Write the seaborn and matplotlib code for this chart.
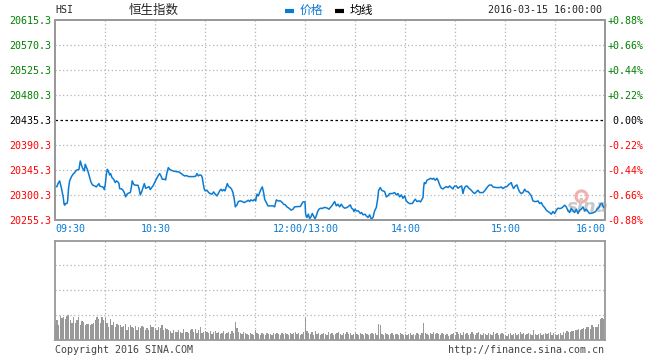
import numpy as np
import pandas as pd
import seaborn as sns
import matplotlib
matplotlib.use("Agg")
import matplotlib.pyplot as plt
from matplotlib.lines import Line2D
from matplotlib.transforms import ScaledTranslation

# ------------ data -------------------------------------
prev_close = 20435.3
levels = [20255.3, 20300.3, 20345.3, 20390.3, 20435.3, 20480.3, 20525.3, 20570.3, 20615.3]

# trading minutes since 09:30 (12:00 and 13:00 share minute 150)
minutes = [
    0, 1.0, 1.6, 2.6, 3.0, 3.6, 4.2, 4.8, 5.2, 5.6, 6.0, 7.0, 7.4, 8.0, 8.6, 9.6, 10.6, 11.6, 12.6, 13.6,
    14.2, 15.0, 15.6, 16.2, 16.8, 17.4, 18.0, 18.6, 19.2, 19.8, 20.6, 21.2, 21.8, 22.6, 23.6, 24.6, 25.6,
    26.2, 26.8, 27.8, 28.6, 29.4, 30.0, 30.6, 31.2, 31.8, 32.6, 33.2, 34.0, 35.0, 36.0, 36.6, 37.4, 38.2,
    38.6, 39.8, 40.6, 41.4, 42.2, 43.0, 43.8, 45.0, 45.6, 46.2, 46.8, 47.4, 48.6, 49.6, 50.2, 51.0, 51.8,
    52.6, 53.4, 54.2, 55.2, 56.2, 57.0, 57.8, 58.6, 59.6, 60.6, 61.6, 62.6, 63.4, 64.2, 65.6,
    66.2, 67.0, 67.8, 68.6, 69.6, 70.6, 72.6, 74.2, 75.6, 76.6, 77.6, 78.6, 80.2, 82.6, 84.2, 85.0, 85.8,
    86.6, 87.6, 88.2, 88.8, 89.4, 90.0, 91.0, 92.0, 93.0, 94.0, 95.0, 96.0, 97.0, 97.8, 98.6, 99.4, 100.2,
    101.0, 101.8, 102.6, 103.2, 104.0, 105.0, 105.8, 106.6, 107.4, 108.0, 109.0, 109.8, 111.0, 112.2,
    113.4, 114.6, 115.8, 116.6, 117.4, 118.6, 119.6, 120.2, 121.0, 121.8, 122.6, 123.4, 124.2, 125.0,
    125.6, 126.6, 127.6, 128.6, 130.6, 131.6,
    132.6, 133.6, 135.0, 136.2, 137.0, 138.0, 139.0, 140.2, 141.6, 142.6, 143.6, 145.6, 147.0, 147.8,
    148.6, 149.8, 150.2, 151.0, 151.8, 152.6, 153.4, 154.2, 155.0, 155.8, 156.6, 157.4, 158.2, 159.2,
    160.2, 161.2, 162.2, 163.2, 164.2, 165.0, 165.8, 166.6, 167.6, 168.6, 169.6, 170.6, 171.6, 172.6,
    173.6, 175.0, 176.2, 177.0, 177.8, 178.6, 179.2, 179.8, 180.6, 181.8, 183.0, 183.8, 184.6, 185.8,
    186.6, 187.6, 188.6, 189.6, 190.6, 191.6, 192.6, 193.4, 194.0, 195.0, 195.8, 196.6, 197.6,
    198.6, 199.6, 200.6, 202.2, 203.6, 204.6, 205.6, 206.6, 207.6, 208.6, 209.6, 210.6, 211.6, 212.6,
    214.2, 215.2, 216.0, 217.0, 218.2, 219.2, 220.0, 220.6, 221.0, 221.4, 222.2, 223.0, 224.2, 225.2,
    226.2, 227.0, 228.0, 229.0, 229.8, 230.6, 231.6, 232.6, 233.6, 234.6, 235.6, 236.6, 237.6, 238.6,
    239.4, 240.6, 241.6, 242.6, 243.8, 244.6, 245.2, 246.0, 247.0, 248.2, 249.6, 250.6, 251.6, 252.6,
    253.6, 254.6, 256.6, 257.6, 259.0, 260.2, 261.6, 262.6,
    264.6, 266.6, 267.6, 268.6, 270.0, 271.0, 272.2, 273.0, 273.6, 274.2, 275.0, 276.0, 277.0, 277.6,
    278.6, 279.6, 280.6, 281.6, 282.6, 283.6, 284.6, 285.6, 286.6, 287.6, 288.6, 289.6, 290.6, 291.6,
    292.6, 293.6, 294.6, 295.6, 296.6, 297.6, 298.6, 299.6, 300.6, 301.6, 302.6, 303.6, 304.6, 305.6,
    306.6, 307.6, 308.6, 309.6, 310.6, 311.6, 312.6, 313.6, 314.6, 315.6, 316.6, 317.6, 318.6, 319.6,
    320.6, 322.6, 324.2, 325.0, 326.2, 327.0, 328.0, 329.0, 330.0,
]
prices = [
    20314.7, 20314.7, 20320.1, 20324.9, 20320.1, 20312.9, 20303.9, 20294.9, 20284.1, 20281.1, 20284.1,
    20284.1, 20288.9, 20312.9, 20324.9, 20332.1, 20336.9, 20339.9, 20344.1, 20345.3, 20345.9, 20360.9,
    20354.9, 20348.9, 20345.9, 20342.9, 20354.9, 20350.1, 20345.9, 20339.9, 20330.9, 20324.9, 20320.1,
    20317.1, 20315.9, 20314.1, 20317.7, 20320.1, 20315.3, 20314.7, 20314.1, 20309.3, 20318.9, 20336.9,
    20345.9, 20342.9, 20335.7, 20338.1, 20330.9, 20327.9, 20321.9, 20324.9, 20323.7, 20320.1, 20311.1,
    20310.5, 20308.1, 20303.9, 20296.1, 20300.9, 20302.7, 20303.9, 20312.9, 20324.9, 20320.1, 20317.7,
    20317.1, 20317.1, 20311.7, 20299.7, 20305.1, 20312.9, 20320.1, 20311.7, 20312.9, 20314.7, 20309.3,
    20312.9, 20315.9, 20321.9, 20327.9, 20333.9, 20338.1, 20333.9, 20327.9, 20327.9,
    20326.7, 20339.9, 20348.9, 20345.9, 20344.1, 20342.9, 20341.7, 20341.1, 20338.1, 20335.7, 20333.9,
    20334.5, 20332.7, 20332.7, 20333.3, 20338.1, 20333.9, 20335.7, 20335.1, 20330.9, 20318.9, 20309.9,
    20306.9, 20308.1, 20303.9, 20302.1, 20300.9, 20305.1, 20300.9, 20297.9, 20302.1, 20306.9, 20309.9,
    20306.9, 20309.3, 20306.9, 20314.1, 20320.1, 20314.7, 20312.9, 20309.9, 20303.9, 20291.9, 20278.1,
    20281.7, 20287.7, 20288.9, 20287.7, 20285.9, 20287.7, 20290.1, 20287.7, 20290.7, 20288.9, 20291.9,
    20288.9, 20300.9, 20297.9, 20303.9, 20309.9, 20314.1, 20303.9, 20291.9, 20285.9, 20279.9, 20279.9,
    20279.9, 20278.1,
    20290.7, 20288.9, 20288.9, 20285.9, 20282.9, 20281.7, 20278.1, 20275.7, 20272.1, 20273.9, 20278.1,
    20278.7, 20278.7, 20282.9, 20287.1, 20287.1, 20264.9, 20258.9, 20264.9, 20257.1, 20260.1, 20266.1,
    20261.3, 20256.5, 20261.9, 20269.7, 20273.9, 20275.7, 20275.1, 20276.9, 20276.9, 20275.7, 20273.9,
    20276.9, 20279.3, 20282.9, 20287.7, 20279.9, 20282.9, 20278.1, 20282.9, 20278.1, 20275.7, 20276.9,
    20279.9, 20281.7, 20275.7, 20273.9, 20269.7, 20273.9, 20270.9, 20270.9, 20266.1, 20267.9, 20263.7,
    20264.9, 20261.9, 20258.9, 20263.7, 20255.9, 20258.9, 20270.9, 20276.9, 20291.9, 20308.1, 20312.9,
    20308.1, 20306.9, 20305.7,
    20296.1, 20297.9, 20302.1, 20302.1, 20303.9, 20299.7, 20302.1, 20296.1, 20299.7, 20293.7, 20297.9,
    20288.9, 20285.9, 20284.1, 20284.1, 20288.9, 20291.9, 20287.7, 20288.9, 20287.1, 20291.9, 20294.9,
    20312.9, 20321.9, 20320.1, 20326.1, 20327.9, 20329.7, 20327.9, 20329.7, 20326.1, 20329.7, 20324.9,
    20317.7, 20311.7, 20310.5, 20312.9, 20314.7, 20312.9, 20315.9, 20312.9, 20310.5, 20315.3, 20315.9,
    20311.7, 20314.1, 20315.9, 20302.1, 20309.9, 20314.7, 20315.9, 20311.7, 20308.1, 20304.5, 20302.1,
    20305.1, 20308.1, 20303.9, 20303.9, 20306.9, 20312.9, 20317.1, 20317.7, 20314.1,
    20312.9, 20312.9, 20314.1, 20311.1, 20314.1, 20314.7, 20318.9, 20320.1, 20321.9, 20315.9, 20311.1,
    20315.9, 20317.7, 20311.7, 20305.1, 20302.1, 20303.9, 20309.9, 20305.7, 20305.7, 20302.1, 20297.9,
    20288.9, 20287.7, 20287.7, 20288.9, 20284.1, 20285.9, 20279.9, 20276.9, 20272.1, 20269.7, 20267.9,
    20264.9, 20269.7, 20266.1, 20272.1, 20275.7, 20275.1, 20275.7, 20278.1, 20281.1, 20278.1, 20270.9,
    20267.9, 20275.7, 20270.9, 20267.9, 20273.9, 20266.1, 20272.1, 20273.9, 20278.1, 20270.9, 20273.9,
    20269.7, 20266.1, 20267.3, 20269.7, 20273.9, 20276.9, 20282.9, 20284.1, 20276.9, 20276.9,
]

# per-minute volume, arbitrary units (first grid line = 25)
volume = [
    16, 20, 15, 24, 22, 23, 21, 24, 25, 20, 17, 23, 17, 20, 23, 15, 19, 18, 15, 16,
    16, 15, 16, 17, 20, 23, 21, 17, 23, 20,
    22, 17, 13, 21, 15, 18, 13, 16, 15, 15, 13, 14, 16, 10, 13, 15, 13, 12, 14, 10,
    13, 12, 14, 13, 10, 12, 10, 15, 13, 13,
    12, 10, 13, 12, 15, 10, 12, 11, 10, 9, 7, 10, 8, 8, 10, 8, 7, 11, 8, 8,
    7, 10, 11, 8, 11, 7, 10, 13, 7, 8,
    9, 8, 7, 9, 6, 8, 9, 7, 8, 6, 7, 9, 6, 7, 8, 6, 9, 7, 18, 12,
    8, 7, 6, 8, 7, 6, 5, 7, 6, 5,
    10, 7, 6, 5, 7, 6, 5, 7, 6, 6, 5, 7, 6, 7, 6, 5, 7, 6, 7, 6,
    5, 7, 6, 7, 8, 6, 7, 5, 6, 8,
    22,
    9, 7, 6, 8, 5, 9, 6, 7, 5, 6, 7, 6, 5, 8, 6, 7, 5, 6, 7, 8,
    6, 5, 7, 6, 8, 6, 7, 5, 6,
    7, 6, 5, 7, 6, 5, 7, 6, 5, 6, 7, 6, 7, 5, 16, 15, 6, 5, 7, 6,
    5, 6, 7, 5, 6, 6, 5, 7, 6, 5,
    6, 5, 6, 7, 5, 6, 5, 7, 6, 5, 7, 17, 7, 6, 5, 7, 6, 8, 6, 7,
    6, 5, 7, 6, 5, 6, 4, 5, 6, 7,
    5, 8, 6, 7, 5, 8, 6, 7, 5, 6, 8, 6, 5, 7, 8, 6, 5, 7, 6, 5,
    7, 6, 5, 8, 6, 7, 5, 6, 7, 6,
    5, 4, 6, 7, 5, 6, 7, 5, 6, 8, 6, 7, 5, 6, 7, 6, 5, 10, 6, 5,
    6, 7, 5, 6, 7, 6, 7, 8, 5, 7,
    6, 5, 6, 7, 5, 8, 7, 9, 8, 8, 9, 9, 10, 10, 11, 10, 11, 12, 11, 13,
    13, 11, 15, 13, 13, 13, 16, 21, 22, 21, 39,
]

time_pos = [0, 60, 150, 210, 270, 330]
time_labels = ["09:30", "10:30", "12:00/13:00", "14:00", "15:00", "16:00"]

# ------------ style ----------------
sns.set_style("white")
plt.rcParams["font.family"] = ["DejaVu Sans Mono", "Noto Sans CJK SC"]

BLUE = "#0b7bd2"
GRID = "#b4b4b4"
FRAME = "#999999"
GREEN = "#008000"
RED = "#ff0000"
W, H = 660, 360

def fx(px):
    return px / W

def fy(py):
    return 1 - py / H

fig = plt.figure(figsize=(6.6, 3.6), dpi=100)
ax = fig.add_axes([fx(55.3), fy(219.5), 550 / W, 199.5 / H])
axv = fig.add_axes([fx(55.3), fy(340), 550 / W, 99.5 / H])

# ------------ price panel ----------------
sns.lineplot(x=minutes, y=prices, ax=ax, color=BLUE, linewidth=1.1, zorder=5)
ax.set_xlim(0, 330)
ax.set_ylim(levels[0], levels[-1])
for m in range(30, 330, 30):
    ax.axvline(m, color=GRID, ls=(0, (1, 2)), lw=0.9, zorder=1)
for v in levels[1:-1]:
    if v == prev_close:
        ax.axhline(v, color="black", ls=(0, (2, 2)), lw=0.9, zorder=2)
    else:
        ax.axhline(v, color=GRID, ls=(0, (1, 2)), lw=0.9, zorder=1)

def level_color(v):
    if v > prev_close:
        return GREEN
    if v < prev_close:
        return RED
    return "black"

ax.set_yticks(levels)
ax.set_yticklabels([f"{v:.1f}" for v in levels])
for lab, v in zip(ax.get_yticklabels(), levels):
    lab.set_color(level_color(v))
ax.set_xticks(time_pos)
ax.set_xticklabels(time_labels, color=BLUE)
xl = ax.get_xticklabels()
xl[0].set_ha("left")
xl[-1].set_ha("right")
for lab in xl[1:-1]:
    lab.set_transform(lab.get_transform() + ScaledTranslation(-5 / 100, 0, fig.dpi_scale_trans))
ax.tick_params(length=0, labelsize=7.2, pad=3)
ax.set_xlabel("")
ax.set_ylabel("")

axr = ax.twinx()
axr.set_ylim(levels[0], levels[-1])
axr.set_yticks(levels)
pct = [(v / prev_close - 1) * 100 for v in levels]
axr.set_yticklabels([f"{p:+.2f}%" if abs(p) > 0.001 else " 0.00%" for p in pct])
for lab, v in zip(axr.get_yticklabels(), levels):
    lab.set_color(level_color(v))
axr.tick_params(length=0, labelsize=7.2, pad=1.5)

# faint sina watermark
ax.plot(0.955, 0.12, "o", transform=ax.transAxes, ms=8, mfc="none", mec="#f3b0b0", mew=2.2, zorder=3)
ax.text(0.968, 0.065, "sina", transform=ax.transAxes, ha="center", va="center",
        fontsize=13, style="italic", weight="bold", color="#c8c8c8", family="DejaVu Sans", zorder=3)

# ------------ volume panel ----------------
vol_df = pd.DataFrame({"minute": np.arange(len(volume)), "volume": volume})
sns.barplot(data=vol_df, x="minute", y="volume", native_scale=True, width=0.7,
            color="#999999", saturation=1, errorbar=None, ax=axv, zorder=3,
            linewidth=0, edgecolor="none", antialiased=False)
axv.set_xlim(0, 330)
axv.set_ylim(0, 100)
for m in range(30, 330, 30):
    axv.axvline(m, color=GRID, ls=(0, (1, 2)), lw=0.9, zorder=1)
for v in [25, 50, 75]:
    axv.axhline(v, color=GRID, ls=(0, (1, 2)), lw=0.9, zorder=1)
axv.set_xticks([])
axv.set_yticks([])
axv.set_xlabel("")
axv.set_ylabel("")

for a in (ax, axr, axv):
    for s in a.spines.values():
        s.set_color(FRAME)
        s.set_linewidth(1.3)

# ------------ header / footer ----------------
fig.text(fx(55), fy(10), "HSI", ha="left", va="center", fontsize=7.2)
fig.text(fx(154), fy(10), "恒生指数", ha="center", va="center", fontsize=9, family="Noto Sans CJK SC")
fig.add_artist(Line2D([fx(285), fx(294)], [fy(10.5), fy(10.5)], color=BLUE, lw=3, solid_capstyle="butt"))
fig.text(fx(300), fy(10), "价格", ha="left", va="center", fontsize=8.5, color=BLUE, family="Noto Sans CJK SC")
fig.add_artist(Line2D([fx(335), fx(344)], [fy(10.5), fy(10.5)], color="black", lw=3, solid_capstyle="butt"))
fig.text(fx(350), fy(10), "均线", ha="left", va="center", fontsize=8.5, color="black", family="Noto Sans CJK SC")
fig.text(fx(602), fy(10), "2016-03-15 16:00:00", ha="right", va="center", fontsize=7.2)
fig.text(fx(55), fy(350), "Copyright 2016 SINA.COM", ha="left", va="center", fontsize=7.2, color="#444444")
fig.text(fx(604), fy(350), "http://finance.sina.com.cn", ha="right", va="center", fontsize=7.2, color="#444444")

fig.savefig("out.png", dpi=100)
